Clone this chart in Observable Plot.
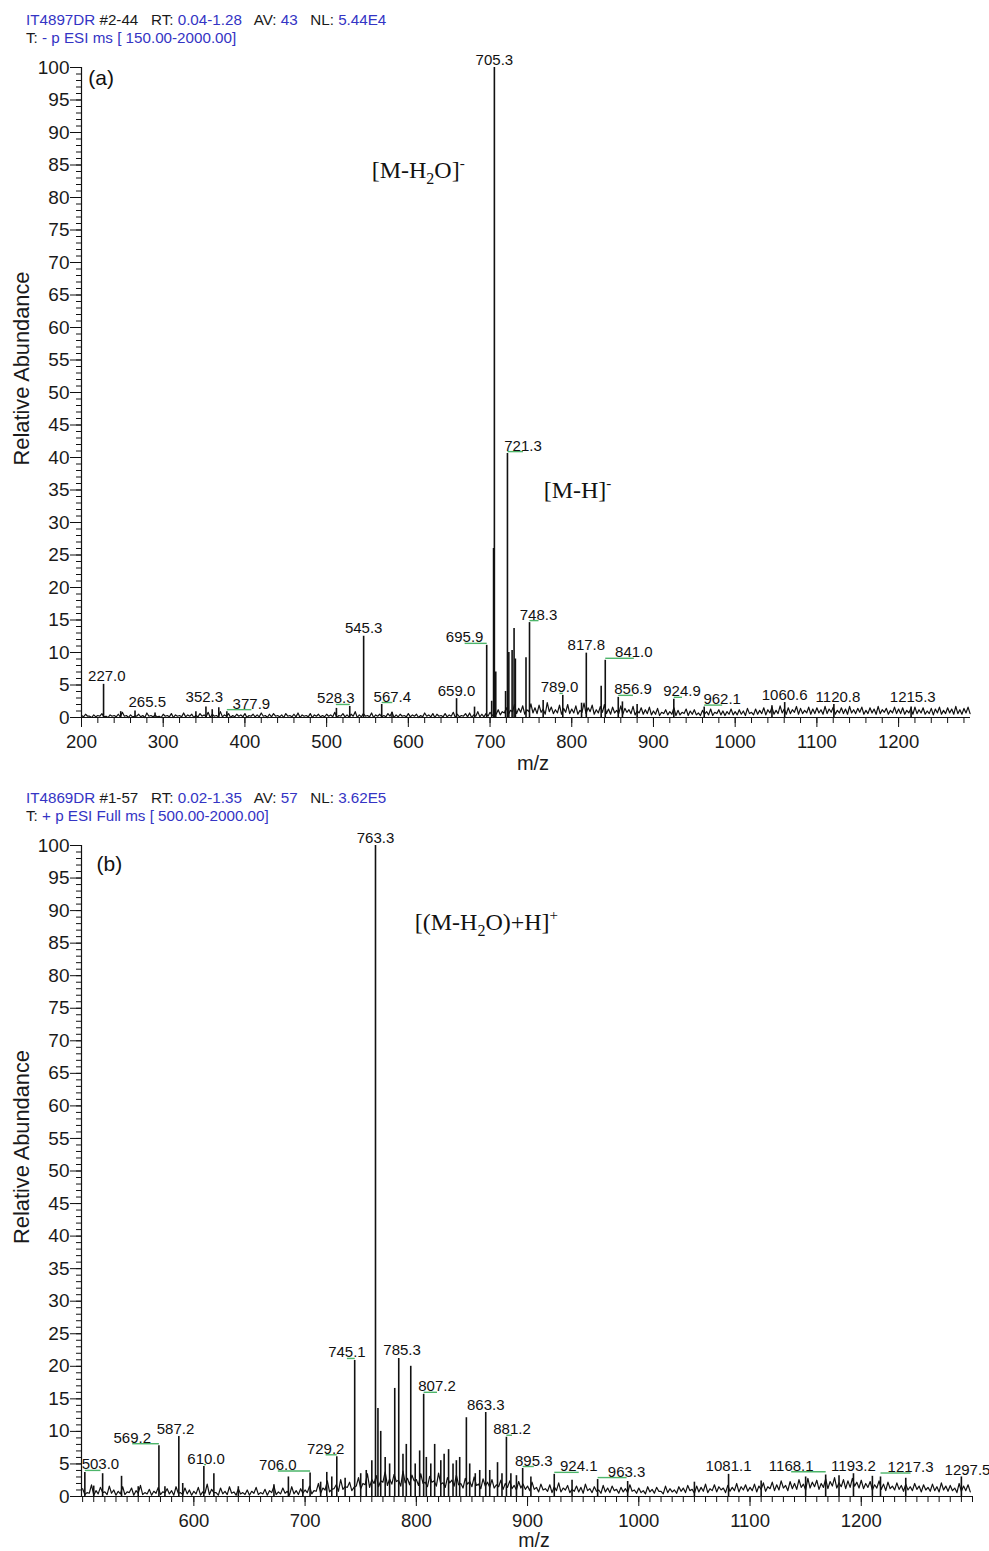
<!DOCTYPE html>
<html><head><meta charset="utf-8">
<script src="https://cdn.jsdelivr.net/npm/d3@7"></script>
<script src="https://cdn.jsdelivr.net/npm/@observablehq/plot@0.6"></script>
<style>
body{margin:0;background:#fff;font-family:Arial,"Liberation Sans",sans-serif;}
#wrap{position:relative;width:989px;height:1551px;overflow:hidden;background:#fff;}
.hdr{position:absolute;left:26px;font-size:15.2px;line-height:18px;color:#1a1a1a;white-space:pre;}
.b{color:#3434c4}
.chart{position:absolute;left:0;}
</style></head><body><div id="wrap">
<div class="hdr" style="top:11px"><span class="b">IT4897DR</span> #2-44   RT: <span class="b">0.04-1.28</span>   AV: <span class="b">43</span>   NL: <span class="b">5.44E4</span></div>
<div class="hdr" style="top:29px">T: <span class="b">- p ESI ms [ 150.00-2000.00]</span></div>
<div class="chart" id="ca" style="top:46px"></div>
<div class="hdr" style="top:789px"><span class="b">IT4869DR</span> #1-57   RT: <span class="b">0.02-1.35</span>   AV: <span class="b">57</span>   NL: <span class="b">3.62E5</span></div>
<div class="hdr" style="top:807px">T: <span class="b">+ p ESI Full ms [ 500.00-2000.00]</span></div>
<div class="chart" id="cb" style="top:826px"></div>
</div>
<script>
// ---------- Data: spectrum (a), negative ESI ----------
const noiseStartA = 200, noiseStepA = 5;
// baseline noise maxima (one every 5 m/z) and minima (in between)
const noiseA = [
0.3,0.5,0.2,0.4,0.3,0.6,0.2,0.4,0.3,0.5,0.8,0.3,0.4,0.2,0.5,0.3,0.7,0.3,0.4,0.2,
0.5,0.3,0.6,0.4,0.3,0.7,0.4,0.5,0.3,0.6,0.4,0.8,0.5,0.3,0.9,0.4,0.6,0.3,0.5,0.4,
0.6,0.3,0.5,0.4,0.7,0.3,0.5,0.6,0.3,0.4,0.6,0.3,0.5,0.7,0.4,0.3,0.6,0.4,0.5,0.3,
0.5,0.4,0.8,0.3,0.6,0.4,0.5,0.9,0.4,0.6,0.3,0.7,0.4,0.5,0.3,0.6,0.8,0.4,0.5,0.3,
0.6,0.4,0.5,0.3,0.7,0.4,0.6,0.5,0.3,0.6,0.4,0.8,0.5,0.3,0.6,0.7,0.4,0.9,0.5,0.6,
0.8,0.5,1.2,0.9,1.5,1.1,2.0,1.4,1.8,1.2,2.1,1.5,1.9,1.3,2.3,1.6,1.2,1.9,1.4,2.0,
1.3,1.8,1.1,2.2,1.5,1.9,1.2,1.7,2.0,1.3,1.6,1.1,1.8,1.4,1.2,1.7,1.0,1.5,1.2,1.6,
1.0,1.4,0.8,1.2,0.9,1.5,1.1,0.8,1.3,1.0,1.2,0.7,1.1,0.9,1.3,0.8,1.2,1.0,0.9,1.3,
0.9,1.2,1.0,1.4,0.8,1.3,1.1,1.5,1.2,1.6,1.1,1.8,1.3,1.5,1.2,1.7,1.4,1.1,1.6,1.3,
1.5,1.2,1.7,1.3,1.6,1.1,1.5,1.3,1.7,1.2,1.4,1.6,1.1,1.5,1.3,1.7,1.2,1.4,1.1,1.6,
1.3,1.5,1.1,1.4,1.6,1.2,1.5,1.0,1.4,1.3,1.6,1.1,1.5,1.3,1.7,1.2,1.4,1.6
];
const noiseLowA = [
0.1,0.2,0.0,0.1,0.2,0.1,0.0,0.2,0.1,0.1,0.2,0.0,0.1,0.2,0.1,0.0,0.2,0.1,0.1,0.0,
0.2,0.1,0.0,0.2,0.1,0.1,0.2,0.0,0.1,0.2,0.1,0.0,0.2,0.1,0.1,0.2,0.0,0.1,0.2,0.1,
0.0,0.2,0.1,0.1,0.2,0.0,0.1,0.2,0.1,0.0,0.2,0.1,0.1,0.0,0.2,0.1,0.0,0.2,0.1,0.1,
0.2,0.1,0.0,0.2,0.1,0.1,0.2,0.0,0.1,0.2,0.1,0.0,0.2,0.1,0.1,0.2,0.0,0.1,0.2,0.1,
0.1,0.2,0.0,0.1,0.2,0.1,0.0,0.2,0.1,0.1,0.2,0.0,0.1,0.2,0.1,0.0,0.2,0.1,0.1,0.2,
0.3,0.5,0.4,0.7,0.5,0.9,0.6,0.8,0.5,0.9,0.7,0.6,0.8,0.5,0.9,0.6,0.7,0.5,0.8,0.6,
0.7,0.5,0.8,0.6,0.9,0.5,0.7,0.8,0.6,0.5,0.7,0.6,0.5,0.8,0.6,0.4,0.7,0.5,0.6,0.4,
0.5,0.3,0.6,0.4,0.5,0.3,0.4,0.6,0.3,0.5,0.4,0.3,0.5,0.4,0.3,0.6,0.4,0.3,0.5,0.4,
0.4,0.5,0.3,0.6,0.4,0.5,0.6,0.4,0.7,0.5,0.6,0.7,0.5,0.6,0.8,0.5,0.6,0.7,0.5,0.6,
0.7,0.5,0.6,0.8,0.5,0.7,0.6,0.5,0.7,0.6,0.8,0.5,0.6,0.7,0.5,0.6,0.8,0.5,0.7,0.6,
0.6,0.5,0.7,0.5,0.6,0.7,0.5,0.6,0.4,0.7,0.5,0.6,0.7,0.5,0.6,0.5,0.7,0.6
];
const peaksA = [
[227.0,5.1],[248,0.9],[265.5,1.0],[290,0.7],[340,0.9],[352.3,1.6],[360,1.2],[368,1.5],[377.9,0.9],
[512,1.4],[528.3,1.7],[545.3,12.5],[567.4,2.0],[580,0.8],[659.0,2.9],[681,1.6],[695.9,11.1],
[702,2.5],[704.3,26],[705.3,100],[707,7],[719,4],[721.3,40.6],[723,10],[727,10.3],[729.4,13.7],
[731,9],[744,9.2],[748.3,14.6],[765,2.6],[789.0,3.4],[812,2.2],[817.8,9.9],[836,4.8],[841.0,8.8],
[856.9,3.1],[862,2.4],[880,2.0],[924.9,2.8],[962.1,1.6],[1045,1.8],[1060.6,2.3],[1120.8,2.0],[1215.3,1.6]
];
const labelsA = [
{t:"227.0",mz:227.0,h:5.1},{t:"265.5",mz:265.5,h:1.1},{t:"352.3",mz:352.3,h:2.0},
{t:"377.9",mz:377.9,h:0.9},{t:"528.3",mz:528.3,h:1.7},{t:"545.3",mz:545.3,h:12.5},
{t:"567.4",mz:567.4,h:2.0},{t:"659.0",mz:659.0,h:2.9},{t:"695.9",mz:695.9,h:11.1},
{t:"705.3",mz:705.3,h:100},{t:"721.3",mz:721.3,h:40.6},{t:"748.3",mz:748.3,h:14.6},
{t:"789.0",mz:789.0,h:3.4},{t:"817.8",mz:817.8,h:9.9},{t:"841.0",mz:841.0,h:8.8},
{t:"856.9",mz:856.9,h:3.1},{t:"924.9",mz:924.9,h:2.8},{t:"962.1",mz:962.1,h:1.6},
{t:"1060.6",mz:1060.6,h:2.3},{t:"1120.8",mz:1120.8,h:1.9},{t:"1215.3",mz:1215.3,h:1.9}
];
const ionsA = [
{parts:[["[M-H",""],["2","sub"],["O]",""],["-","sup"]], mz:612, v:84.2},
{parts:[["[M-H]",""],["-","sup"]], mz:807, v:34.9}
];
const panelA = {t:"(a)", mz:224, v:98.4};
const xTicksA = [200,300,400,500,600,700,800,900,1000,1100,1200];

// ---------- Data: spectrum (b), positive ESI ----------
const noiseStartB = 500, noiseStepB = 4;
const noiseB = [
1.2,0.6,1.8,0.9,1.4,0.7,1.6,1.0,0.8,1.5,0.7,1.3,0.9,1.7,0.6,1.1,0.8,1.4,0.7,1.2,0.9,1.5,0.6,1.3,1.0,
0.8,1.4,0.7,1.9,1.1,0.6,1.3,0.8,1.5,0.7,1.2,0.6,1.0,0.8,1.4,0.6,1.1,0.9,1.6,0.7,1.3,0.8,1.5,0.9,1.2,
1.0,1.6,0.9,2.0,1.3,2.4,1.1,1.8,2.6,1.5,2.2,1.4,2.9,2.0,3.5,2.6,3.2,2.4,3.8,2.7,3.4,2.5,3.9,2.8,3.3,
2.6,3.5,2.2,3.1,2.4,3.6,2.1,2.9,2.5,3.3,2.0,2.8,2.3,3.0,1.9,2.7,2.2,2.6,1.8,2.5,2.0,2.4,1.7,2.3,1.9,
1.6,2.2,1.4,1.9,1.2,1.8,1.5,2.1,1.3,1.7,1.1,1.6,1.4,1.9,1.2,1.5,1.0,1.7,1.3,1.6,1.1,1.4,1.2,1.8,1.0,
1.3,0.9,1.5,1.1,1.4,0.8,1.6,1.2,1.0,1.5,1.3,1.7,1.1,1.6,1.4,1.9,1.2,1.8,1.5,1.3,1.7,1.4,2.0,1.5,1.8,
1.4,1.9,1.6,2.1,1.5,2.2,1.8,2.4,1.7,2.3,2.0,2.6,1.9,2.8,2.2,2.5,2.0,2.7,2.3,2.9,2.1,2.6,2.4,2.8,2.2,
2.5,2.0,2.3,1.8,2.4,1.9,2.2,1.6,2.1,1.7,1.9,1.5,2.0,1.6,1.8,1.4,1.9,1.5,2.1,1.6,1.7,1.3,2.0,1.6,1.8
];
const noiseLowB = [
0.3,0.5,0.2,0.4,0.6,0.3,0.5,0.2,0.4,0.3,0.6,0.2,0.5,0.3,0.4,0.2,0.5,0.3,0.6,0.4,0.2,0.5,0.3,0.4,0.2,
0.4,0.2,0.5,0.3,0.6,0.2,0.4,0.3,0.5,0.2,0.4,0.3,0.2,0.5,0.3,0.4,0.2,0.6,0.3,0.4,0.5,0.2,0.4,0.3,0.5,
0.6,0.4,0.8,0.5,1.0,0.7,1.2,0.8,1.1,1.4,0.9,1.6,1.2,1.8,1.4,2.0,1.5,2.2,1.7,1.9,2.3,1.6,2.1,1.8,2.4,
1.7,2.0,1.5,2.2,1.6,1.9,1.4,2.1,1.6,1.8,1.3,1.9,1.5,1.7,1.2,1.6,1.4,1.3,1.5,1.1,1.4,1.2,1.0,1.3,1.1,
0.9,1.1,0.7,1.0,0.8,0.6,0.9,0.7,1.0,0.6,0.8,0.7,0.5,0.9,0.6,0.8,0.5,0.7,0.6,0.9,0.5,0.7,0.6,0.8,0.5,
0.6,0.4,0.7,0.5,0.8,0.4,0.6,0.7,0.5,0.8,0.6,0.9,0.5,0.7,0.8,0.6,0.9,0.7,1.0,0.6,0.8,0.9,0.7,1.0,0.8,
0.9,0.7,1.1,0.8,1.2,0.9,1.0,1.3,0.9,1.2,1.1,1.4,1.0,1.3,1.5,1.1,1.4,1.2,1.6,1.3,1.5,1.2,1.4,1.6,1.3,
1.2,1.4,1.0,1.3,1.1,0.9,1.2,1.0,1.1,0.8,1.0,0.9,1.1,0.7,1.0,0.8,0.9,0.7,1.0,0.8,0.9,0.6,0.8,0.9,0.7
];
const peaksB = [
[502,3.7],[510,1.6],[518,3.5],[535,3.1],[550,1.5],[568.6,7.8],[574,1.5],[586.5,9.2],[590,2.0],
[609,4.6],[618,3.5],[640,1.5],[672,1.8],[685,3.0],[698,2.6],[704.5,3.6],[714,2.2],[719.5,3.7],
[724,3.0],[728.5,6.1],[736,2.8],[744.6,20.9],[750,3.5],[755,4.0],[760,5.5],[763.3,100],[765.5,13.5],
[768,10],[772,6],[776,5],[780.6,16.6],[784.2,21.2],[788,6.5],[791,8],[795,20.0],[799,5],[803,7],
[806.6,15.7],[809,6],[813,5],[816.5,8.0],[822,5.5],[825,6.5],[829,7.2],[833,5],[836,5.5],[839,6.0],
[845,12.1],[848,5],[853,3.5],[857,4],[862.4,12.9],[866,4],[873,5.2],[877,3.5],[881,9.1],[885,3.5],
[890,3.2],[895.6,4.3],[903,3.0],[924,3.4],[940,2.5],[963,2.6],[990,2.3],[1050,2.2],[1080.7,3.4],
[1110,2.4],[1150,3.0],[1168,3.3],[1180,3.2],[1193,3.5],[1210,3.1],[1217.3,3.0],[1240,2.8],[1290,3.0]
];
const labelsB = [
{t:"503.0",mz:502,h:3.7},{t:"569.2",mz:568.6,h:7.8},{t:"587.2",mz:586.5,h:9.2},
{t:"610.0",mz:609,h:4.6},{t:"706.0",mz:704.5,h:3.6},{t:"729.2",mz:728.5,h:6.1},
{t:"745.1",mz:744.6,h:20.9},{t:"763.3",mz:763.3,h:100},{t:"785.3",mz:784.2,h:21.2},
{t:"807.2",mz:806.6,h:15.7},{t:"863.3",mz:862.4,h:12.9},{t:"881.2",mz:881,h:9.1},
{t:"895.3",mz:895.6,h:4.3},{t:"924.1",mz:924,h:3.4},{t:"963.3",mz:963,h:2.6},
{t:"1081.1",mz:1080.7,h:3.4},{t:"1168.1",mz:1168,h:3.5},{t:"1193.2",mz:1193,h:3.5},
{t:"1217.3",mz:1217.3,h:3.3},{t:"1297.5",mz:1297.5,h:2.9}
];
const ionsB = [
{parts:[["[(M-H",""],["2","sub"],["O)+H]",""],["+","sup"]], mz:863, v:88.2}
];
const panelB = {t:"(b)", mz:524, v:97.1};
const xTicksB = [600,700,800,900,1000,1100,1200];

// ---------- layout tweaks (label nudges in m/z units, leader lines) ----------
const nudgeA = {"227.0":4,"265.5":15,"352.3":-2,"377.9":30,"528.3":-17,"567.4":13,"695.9":-27,
  "721.3":19,"748.3":11,"789.0":-4,"841.0":35,"856.9":18,"924.9":10,"962.1":22,"1120.8":5,"1215.3":2};
const leaderA = new Set(["377.9","528.3","567.4","695.9","721.3","748.3","789.0","841.0","856.9","924.9","962.1"]);
const nudgeB = {"503.0":14,"569.2":-24,"587.2":-3,"610.0":2,"706.0":-29,"729.2":-10,"745.1":-7,
  "785.3":3,"807.2":12,"881.2":5,"895.3":10,"924.1":22,"963.3":26,"1168.1":-31,"1217.3":27,"1297.5":-2};
const leaderB = new Set(["503.0","569.2","610.0","706.0","729.2","745.1","807.2","881.2","895.3","924.1","963.3","1168.1","1217.3"]);

const INK = "#111";
const GREEN = "#4db56a";
const SANS = 'Arial, "Liberation Sans", sans-serif';
const SERIF = '"Liberation Serif", "Times New Roman", serif';

function spectrum({noise, noiseLow, start, step, peaks, labels, nudge, leader, ions, panel, domain, xTicks, minorStep, height, marginTop, marginBottom, marginRight, mzDy, mzSize}) {
  const noisePts = noise.flatMap((v, i) => [
    {mz: start + i * step, v},
    {mz: start + i * step + step / 2, v: noiseLow[i]}
  ]);
  const lab = labels.map(d => ({...d, lx: d.mz + (nudge[d.t] || 0)}));
  const minor = d3.range(Math.ceil(domain[0] / minorStep) * minorStep, domain[1] + 0.001, minorStep);
  const svg = Plot.plot({
    width: 989, height, marginLeft: 81, marginRight, marginTop, marginBottom,
    x: {domain}, y: {domain: [0, 100]},
    style: {fontFamily: SANS, color: INK, background: "white", overflow: "visible"},
    marks: [
      Plot.line(noisePts, {x: "mz", y: "v", stroke: INK, strokeWidth: 1.2}),
      Plot.ruleX(peaks, {x: d => d[0], y1: 0, y2: d => d[1], stroke: INK, strokeWidth: 1.6}),
      Plot.ruleY([0], {stroke: INK, strokeWidth: 1.2}),
      Plot.ruleX([domain[0]], {y1: 0, y2: 100, stroke: INK, strokeWidth: 1.2}),
      Plot.axisY({ticks: d3.range(0, 101, 1), tickSize: 5, tickFormat: () => "", label: null, stroke: INK}),
      Plot.axisY({ticks: d3.range(0, 101, 5), tickSize: 11, tickPadding: 1, fontSize: 19, label: null, stroke: INK, fill: "#1a1a1a"}),
      Plot.axisX({ticks: minor, tickSize: 6, tickFormat: () => "", label: null, stroke: INK}),
      Plot.axisX({ticks: xTicks, tickSize: 10, tickPadding: 7, fontSize: 18.5, label: null, stroke: INK, fill: "#1a1a1a", tickFormat: d => String(d)}),
      Plot.text(["m/z"], {frameAnchor: "bottom", text: d => d, dy: mzDy, dx: 7, textAnchor: "middle", lineAnchor: "middle", fontSize: mzSize, fill: "#1a1a1a"}),
      Plot.text(["Relative Abundance"], {frameAnchor: "left", text: d => d, rotate: -90, dx: -59, dy: -24, textAnchor: "middle", lineAnchor: "middle", fontSize: 21.8, fill: "#1a1a1a"}),
      Plot.link(lab.filter(d => leader.has(d.t)), {x1: "mz", x2: "lx", y1: "h", y2: "h", dy: -2, stroke: GREEN, strokeWidth: 1.4}),
      Plot.text(lab, {x: "lx", y: "h", text: "t", dy: -3, lineAnchor: "bottom", fontSize: 15, fill: INK}),
      Plot.text([panel], {x: "mz", y: "v", text: "t", fontSize: 21, lineAnchor: "middle", fill: INK}),
      Plot.text(ions, {x: "mz", y: "v", text: d => d.parts.map(p => p[0]).join(""), fontFamily: SERIF, fontSize: 24, lineAnchor: "middle", fill: INK})
    ]
  });
  // rich text for ion formulas (subscript / superscript)
  svg.querySelectorAll("text").forEach(t => {
    const ion = ions.find(d => d.parts.map(p => p[0]).join("") === t.textContent);
    if (!ion) return;
    t.textContent = "";
    let shift = 0;
    for (const [s, kind] of ion.parts) {
      const ts = document.createElementNS("http://www.w3.org/2000/svg", "tspan");
      ts.textContent = s;
      const target = kind === "sub" ? 6 : kind === "sup" ? -10 : 0;
      ts.setAttribute("dy", target - shift);
      shift = target;
      if (kind) ts.setAttribute("font-size", kind === "sub" ? "16" : "15");
      t.appendChild(ts);
    }
  });
  return svg;
}

document.getElementById("ca").appendChild(spectrum({
  noise: noiseA, noiseLow: noiseLowA, start: noiseStartA, step: noiseStepA, peaks: peaksA, labels: labelsA,
  nudge: nudgeA, leader: leaderA, ions: ionsA, panel: panelA, domain: [200, 1288],
  xTicks: xTicksA, minorStep: 20, height: 729, marginTop: 21, marginBottom: 58, marginRight: 19, mzDy: 46, mzSize: 20
}));
document.getElementById("cb").appendChild(spectrum({
  noise: noiseB, noiseLow: noiseLowB, start: noiseStartB, step: noiseStepB, peaks: peaksB, labels: labelsB,
  nudge: nudgeB, leader: leaderB, ions: ionsB, panel: panelB, domain: [499, 1300],
  xTicks: xTicksB, minorStep: 10, height: 725, marginTop: 19, marginBottom: 55, marginRight: 17, mzDy: 44, mzSize: 19.5
}));
</script>
</body></html>
